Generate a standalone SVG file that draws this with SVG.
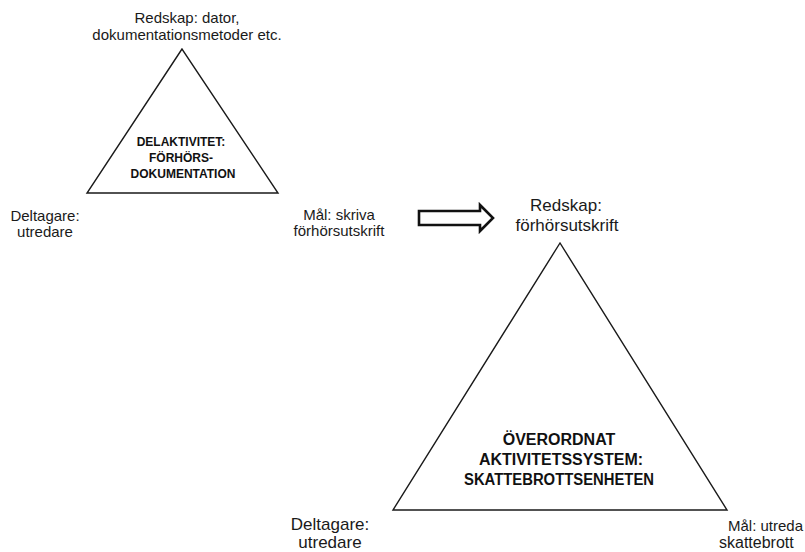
<svg xmlns="http://www.w3.org/2000/svg" width="805" height="552" viewBox="0 0 805 552">
<style>
.tri{fill:#fff;stroke:#1a1a1a;stroke-width:1.4;stroke-linejoin:miter}
.lbl{font-family:"Liberation Sans",Arial,sans-serif;fill:#1a1a1a}
.s{font-size:15px}
.b{font-size:17px}
.t1{font-family:"Liberation Sans",Arial,sans-serif;font-weight:bold;font-size:12px;fill:#111}
.t2{font-family:"Liberation Sans",Arial,sans-serif;font-weight:bold;font-size:16px;fill:#111}
.arrow{fill:#fff;stroke:#111;stroke-width:2.6;stroke-linejoin:miter}
</style>
<rect width="805" height="552" fill="#fff"/>
<g id="small-system">
<polygon class="tri" points="182,49 87,193 278,193"/>
<text class="t1" text-anchor="middle" x="181" y="146">DELAKTIVITET:</text>
<text class="t1" text-anchor="middle" x="181" y="162">FÖRHÖRS-</text>
<text class="t1" text-anchor="middle" x="183" y="178">DOKUMENTATION</text>
</g>
<g id="small-tool"><text class="lbl s" text-anchor="middle" x="187" y="23">Redskap: dator,</text>
<text class="lbl s" text-anchor="middle" x="187" y="40">dokumentationsmetoder etc.</text></g>
<g id="small-subject"><text class="lbl s" text-anchor="middle" x="45" y="221">Deltagare:</text>
<text class="lbl s" text-anchor="middle" x="45" y="237">utredare</text></g>
<g id="small-object"><text class="lbl s" text-anchor="middle" x="339" y="220">Mål: skriva</text>
<text class="lbl s" text-anchor="middle" x="339" y="236">förhörsutskrift</text></g>
<g id="connectors">
<polygon class="arrow" points="419,211 480,211 480,205 493,218 480,231 480,225 419,225"/>
</g>
<g id="big-system">
<polygon class="tri" points="560,243 393,510 727,510"/>
<text class="t2" text-anchor="middle" x="559" y="445">ÖVERORDNAT</text>
<text class="t2" text-anchor="middle" x="561" y="465" textLength="164" lengthAdjust="spacingAndGlyphs">AKTIVITETSSYSTEM:</text>
<text class="t2" text-anchor="middle" x="559" y="485" textLength="190" lengthAdjust="spacingAndGlyphs">SKATTEBROTTSENHETEN</text>
</g>
<g id="big-tool"><text class="lbl b" text-anchor="middle" x="566" y="211">Redskap:</text>
<text class="lbl b" text-anchor="middle" x="567" y="231">förhörsutskrift</text></g>
<g id="big-subject"><text class="lbl b" text-anchor="middle" x="330" y="530">Deltagare:</text>
<text class="lbl b" text-anchor="middle" x="330" y="548">utredare</text></g>
<g id="big-object"><text class="lbl" font-size="15" x="728" y="531">Mål: utreda</text>
<text class="lbl" font-size="16" x="719" y="548">skattebrott</text></g>
</svg>
